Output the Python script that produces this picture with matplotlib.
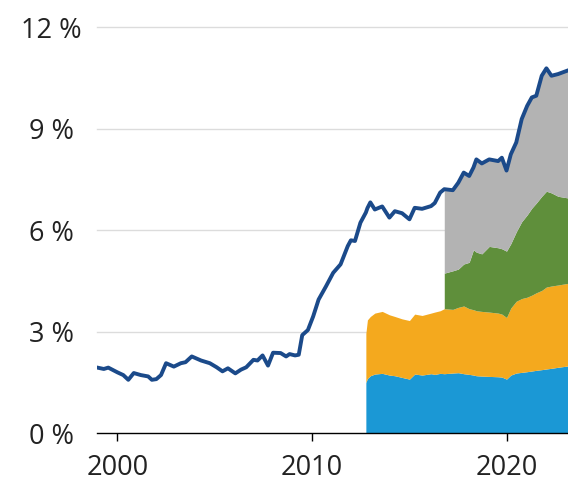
import numpy as np
import matplotlib
matplotlib.use("Agg")
import matplotlib.pyplot as plt

# total line (per cent)
years = [1998.97, 1999.3, 1999.53, 2000.0, 2000.3, 2000.56, 2000.84, 2001.2, 2001.58, 2001.77,
         2002.0, 2002.24, 2002.5, 2002.9, 2003.26, 2003.5, 2003.82, 2004.3, 2004.75, 2005.1,
         2005.4, 2005.68, 2006.06, 2006.35, 2006.62, 2006.99, 2007.2, 2007.46, 2007.74, 2008.0,
         2008.39, 2008.67, 2008.85, 2009.13, 2009.32, 2009.5, 2009.79, 2010.06, 2010.34, 2010.72,
         2011.09, 2011.47, 2011.84, 2012.0, 2012.21, 2012.49,
         # from here on the stacked areas exist
         2012.77, 2012.85, 2013.0, 2013.23, 2013.61, 2013.98, 2014.26, 2014.63, 2015.01, 2015.28,
         2015.66, 2016.12, 2016.31, 2016.59, 2016.8, 2017.24, 2017.52, 2017.8, 2018.08, 2018.3,
         2018.45, 2018.73, 2019.11, 2019.57, 2019.76, 2020.0, 2020.22, 2020.5, 2020.78, 2021.06,
         2021.3, 2021.53, 2021.81, 2022.05, 2022.31, 2022.65, 2023.17]
total = [1.94, 1.90, 1.94, 1.80, 1.72, 1.58, 1.78, 1.72, 1.68, 1.58,
         1.60, 1.72, 2.07, 1.97, 2.07, 2.10, 2.27, 2.15, 2.07, 1.95,
         1.83, 1.92, 1.77, 1.88, 1.95, 2.17, 2.15, 2.30, 2.00, 2.38,
         2.37, 2.27, 2.34, 2.30, 2.32, 2.90, 3.05, 3.45, 3.95, 4.34,
         4.74, 4.99, 5.53, 5.70, 5.68, 6.22,
         6.52, 6.65, 6.82, 6.61, 6.70, 6.37, 6.56, 6.50, 6.32, 6.66,
         6.63, 6.71, 6.80, 7.11, 7.21, 7.18, 7.40, 7.70, 7.60, 7.85,
         8.09, 7.97, 8.09, 8.04, 8.14, 7.76, 8.24, 8.59, 9.28, 9.67,
         9.92, 9.97, 10.56, 10.78, 10.56, 10.61, 10.72]

# stacked layers (upper edge of each layer), aligned with the tail of `years`
stack_start = 46     # index of 2012.77
blue_top = [1.50, 1.62, 1.70, 1.75, 1.77, 1.72, 1.70, 1.65, 1.60, 1.75,
            1.72, 1.76, 1.74, 1.77, 1.76, 1.78, 1.79, 1.76, 1.74, 1.72,
            1.70, 1.69, 1.68, 1.67, 1.66, 1.60, 1.72, 1.78, 1.80, 1.82,
            1.84, 1.86, 1.88, 1.90, 1.92, 1.95, 1.99]
orange_top = [2.95, 3.35, 3.45, 3.55, 3.60, 3.50, 3.45, 3.38, 3.33, 3.52,
              3.48, 3.55, 3.58, 3.62, 3.68, 3.66, 3.72, 3.76, 3.68, 3.65,
              3.62, 3.60, 3.58, 3.55, 3.52, 3.42, 3.70, 3.90, 3.98, 4.02,
              4.08, 4.15, 4.22, 4.32, 4.35, 4.38, 4.43]
green_start = 60     # index of 2016.8
green_top = [4.73, 4.80, 4.85, 5.00, 5.05, 5.42, 5.35, 5.30, 5.52, 5.48,
             5.45, 5.38, 5.60, 5.95, 6.25, 6.45, 6.65, 6.80, 7.00, 7.15,
             7.10, 7.00, 6.95]

yticks = [0, 3, 6, 9, 12]
ytick_labels = ["0 %", "3 %", "6 %", "9 %", "12 %"]
xticks = [2000, 2010, 2020]

x = np.array(years)
y = np.array(total)
xs = x[stack_start:]
xg = x[green_start:]
og = np.array(orange_top)[green_start - stack_start:]

plt.rcParams['font.family'] = ['Open Sans', 'DejaVu Sans']

fig = plt.figure(figsize=(5.68, 4.84), dpi=100)
ax = fig.add_axes([97/568, 50.7/484, 1 - 97/568, (433.3 - 27)/484])

ax.fill_between(xs, 0, blue_top, color='#1b98d5', lw=0)
ax.fill_between(xs, blue_top, orange_top, color='#f4a91e', lw=0)
ax.fill_between(xg, og, green_top, color='#5f8f3b', lw=0)
ax.fill_between(xg, green_top, y[green_start:], color='#b3b3b3', lw=0)
ax.plot(x, y, color='#1b4a8a', lw=2.8, solid_joinstyle='round', zorder=5)

for v in yticks[1:]:
    ax.axhline(v, color='#dcdcdc', lw=1.0, zorder=0, clip_on=False)

ax.set_xlim(1998.95, 2023.16)
ax.set_ylim(0, 12)
ax.set_xticks(xticks)
ax.set_xticklabels([str(t) for t in xticks])
ax.set_yticks(yticks)
ax.set_yticklabels(ytick_labels)
for lab in ax.get_yticklabels():
    lab.set_horizontalalignment('center')

for s in ['top', 'right', 'left']:
    ax.spines[s].set_visible(False)
ax.spines['bottom'].set_color('black')
ax.spines['bottom'].set_linewidth(1.0)
ax.tick_params(axis='x', direction='out', length=6, width=1.0, color='black',
               pad=9, labelsize=19.5, labelcolor='#222222')
ax.tick_params(axis='y', length=0, pad=33, labelsize=19.5, labelcolor='#222222')

fig.savefig("out.png", dpi=100)
